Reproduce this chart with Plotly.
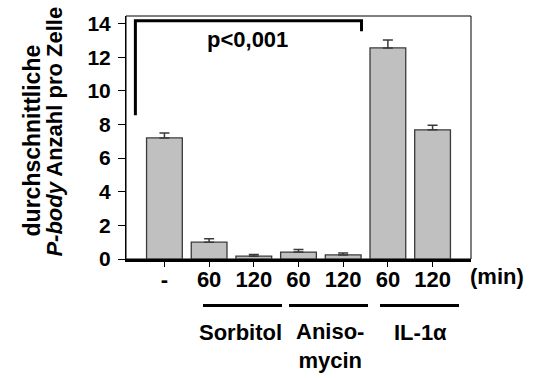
import plotly.graph_objects as go

# Average number of P-bodies per cell after treatment
positions = [0, 1, 2, 3, 4, 5, 6]
time_labels = ["-", "60", "120", "60", "120", "60", "120"]
mean_counts = [7.2, 1.0, 0.17, 0.41, 0.24, 12.55, 7.68]
sem_counts = [0.3, 0.21, 0.1, 0.15, 0.11, 0.48, 0.28]

y_ticks = [0, 2, 4, 6, 8, 10, 12, 14]
treatments = ["Sorbitol", "Aniso-<br>mycin", "IL-1α"]

FONT = "Liberation Sans"
W, H = 545, 378
ML, MR, MT, MB = 126, 74, 13, 119
PW, PH = W - ML - MR, H - MT - MB


def px_x(p):
    return (p - ML) / PW


def px_y(p):
    return (H - MB - p) / PH


def bold(size):
    return dict(size=size, family=FONT, weight="bold", color="black")


fig = go.Figure(
    go.Bar(
        x=positions,
        y=mean_counts,
        width=0.8,
        marker=dict(color="#c0c0c0", line=dict(color="#3a3a3a", width=1.3)),
        error_y=dict(
            type="data",
            array=sem_counts,
            arrayminus=[0] * len(sem_counts),
            symmetric=False,
            color="#3a3a3a",
            thickness=1.5,
            width=5,
        ),
    )
)

fig.update_layout(
    width=W,
    height=H,
    margin=dict(l=ML, r=MR, t=MT, b=MB),
    paper_bgcolor="white",
    plot_bgcolor="white",
    showlegend=False,
    font=dict(family=FONT, color="black"),
)

fig.update_xaxes(
    range=[-0.86, 6.86],
    tickvals=positions,
    ticktext=time_labels,
    tickfont=bold(22),
    ticks="outside",
    ticklen=5,
    tickcolor="black",
    ticklabelstandoff=-6,
    showline=True,
    linecolor="black",
    linewidth=3,
    showgrid=False,
    zeroline=False,
)
fig.update_yaxes(
    range=[0, 14.45],
    tickvals=y_ticks,
    ticktext=[str(v) for v in y_ticks],
    tickfont=bold(21),
    ticks="outside",
    ticklen=7,
    tickcolor="black",
    ticklabelstandoff=3,
    showline=True,
    linecolor="black",
    linewidth=1,
    showgrid=False,
    zeroline=False,
)

# thin frame around the plotting area
fig.add_shape(type="rect", xref="paper", yref="paper", x0=0, x1=1, y0=0, y1=1,
              line=dict(color="black", width=1), layer="below")

# significance bracket
fig.add_shape(type="path", xref="x", yref="y",
              path="M -0.65,8.55 L -0.65,14.17 L 4.41,14.17 L 4.41,13.55",
              line=dict(color="black", width=3))
fig.add_annotation(x=1.86, y=13.04, xref="x", yref="y", text="p<0,001",
                   xanchor="center", yanchor="middle",
                   showarrow=False, font=bold(22))


def label(px, py, text, angle=0, size=22):
    fig.add_annotation(x=px_x(px), y=px_y(py), xref="paper", yref="paper",
                       text=text, textangle=angle, showarrow=False,
                       xanchor="center", yanchor="middle", font=bold(size))


# unit label next to the time ticks
label(497, 277, "(min)")

# treatment group underlines and names
groups = [(203, 282, 240), (289, 368, 330), (380, 459, 420)]
for (a, b, c), name in zip(groups, treatments):
    fig.add_shape(type="line", xref="paper", yref="paper",
                  x0=px_x(a), x1=px_x(b), y0=px_y(306), y1=px_y(306),
                  line=dict(color="black", width=3))
    label(c, 347 if "<br>" in name else 333, name)

# y-axis title in two lines
label(32, 139, "durchschnittliche", angle=-90, size=23)
label(55, 130, "<i>P-body</i> Anzahl pro Zelle", angle=-90, size=22)

fig.write_html("out.html")
